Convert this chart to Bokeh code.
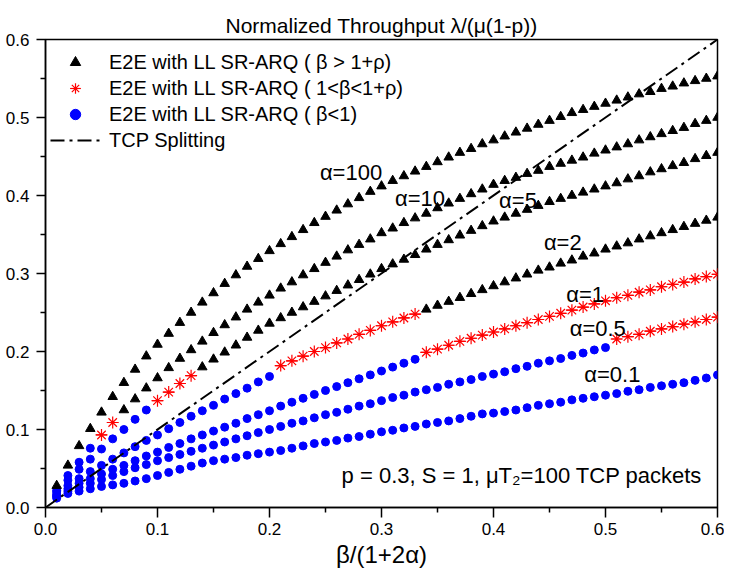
from bokeh.plotting import figure
from bokeh.models import (Range1d, FixedTicker, PrintfTickFormatter,
                          Legend, LegendItem)
from bokeh.embed import file_html
from bokeh.resources import INLINE
from bokeh.core.properties import value

# ---------------- data ----------------
x_vals = [0.01, 0.02, 0.03, 0.04, 0.05, 0.06, 0.07, 0.08, 0.09, 0.10,
          0.11, 0.12, 0.13, 0.14, 0.15, 0.16, 0.17, 0.18, 0.19, 0.20,
          0.21, 0.22, 0.23, 0.24, 0.25, 0.26, 0.27, 0.28, 0.29, 0.30,
          0.31, 0.32, 0.33, 0.34, 0.35, 0.36, 0.37, 0.38, 0.39, 0.40,
          0.41, 0.42, 0.43, 0.44, 0.45, 0.46, 0.47, 0.48, 0.49, 0.50,
          0.51, 0.52, 0.53, 0.54, 0.55, 0.56, 0.57, 0.58, 0.59, 0.60]

y_a100 = [0.028, 0.054, 0.079, 0.101, 0.122, 0.142, 0.160, 0.177, 0.194, 0.209,
          0.223, 0.237, 0.250, 0.263, 0.275, 0.287, 0.298, 0.309, 0.319, 0.329,
          0.338, 0.347, 0.356, 0.365, 0.373, 0.381, 0.389, 0.397, 0.405, 0.412,
          0.419, 0.425, 0.431, 0.437, 0.443, 0.449, 0.455, 0.460, 0.466, 0.471,
          0.476, 0.481, 0.486, 0.491, 0.496, 0.501, 0.506, 0.510, 0.514, 0.518,
          0.522, 0.526, 0.530, 0.533, 0.537, 0.540, 0.544, 0.547, 0.550, 0.553]

y_a10 = [0.022, 0.041, 0.058, 0.076, 0.093, 0.109, 0.125, 0.139, 0.153, 0.166,
         0.179, 0.191, 0.202, 0.213, 0.224, 0.234, 0.244, 0.254, 0.263, 0.272,
         0.281, 0.289, 0.298, 0.306, 0.314, 0.322, 0.330, 0.337, 0.344, 0.352,
         0.358, 0.365, 0.371, 0.377, 0.384, 0.390, 0.396, 0.402, 0.408, 0.414,
         0.419, 0.423, 0.428, 0.432, 0.437, 0.441, 0.445, 0.449, 0.454, 0.458,
         0.462, 0.466, 0.471, 0.475, 0.479, 0.483, 0.487, 0.492, 0.496, 0.500]

y_a5 = [0.020, 0.035, 0.049, 0.062, 0.075, 0.088, 0.100, 0.113, 0.125, 0.137,
        0.148, 0.159, 0.169, 0.180, 0.190, 0.199, 0.208, 0.218, 0.227, 0.236,
        0.243, 0.250, 0.257, 0.264, 0.271, 0.278, 0.285, 0.292, 0.299, 0.306,
        0.312, 0.318, 0.324, 0.331, 0.337, 0.343, 0.349, 0.355, 0.361, 0.367,
        0.372, 0.377, 0.382, 0.387, 0.392, 0.396, 0.400, 0.404, 0.408, 0.412,
        0.416, 0.421, 0.425, 0.430, 0.434, 0.438, 0.442, 0.447, 0.451, 0.455]

y_a2 = [0.017, 0.028, 0.037, 0.046, 0.054, 0.062, 0.070, 0.078, 0.086, 0.093,
        0.101, 0.109, 0.117, 0.124, 0.131, 0.139, 0.146, 0.153, 0.161, 0.168,
        0.182, 0.188, 0.194, 0.200, 0.205, 0.211, 0.216, 0.222, 0.227, 0.233,
        0.238, 0.243, 0.248, 0.254, 0.259, 0.264, 0.269, 0.274, 0.279, 0.284,
        0.289, 0.294, 0.299, 0.304, 0.308, 0.313, 0.317, 0.322, 0.326, 0.331,
        0.335, 0.339, 0.344, 0.348, 0.352, 0.356, 0.360, 0.364, 0.368, 0.372]

y_a1 = [0.015, 0.024, 0.031, 0.037, 0.043, 0.049, 0.054, 0.060, 0.066, 0.071,
        0.077, 0.082, 0.088, 0.093, 0.098, 0.103, 0.108, 0.114, 0.119, 0.124,
        0.130, 0.135, 0.140, 0.145, 0.150, 0.155, 0.160, 0.165, 0.170, 0.175,
        0.180, 0.185, 0.190, 0.199, 0.203, 0.208, 0.213, 0.217, 0.221, 0.225,
        0.229, 0.233, 0.237, 0.241, 0.245, 0.249, 0.253, 0.257, 0.261, 0.265,
        0.269, 0.272, 0.276, 0.279, 0.283, 0.286, 0.289, 0.293, 0.296, 0.299]

y_a05 = [0.014, 0.021, 0.026, 0.031, 0.036, 0.041, 0.046, 0.051, 0.055, 0.060,
         0.064, 0.068, 0.072, 0.076, 0.080, 0.084, 0.088, 0.092, 0.096, 0.100,
         0.104, 0.108, 0.111, 0.115, 0.119, 0.122, 0.126, 0.130, 0.133, 0.137,
         0.141, 0.144, 0.148, 0.151, 0.154, 0.158, 0.161, 0.164, 0.168, 0.171,
         0.174, 0.178, 0.181, 0.185, 0.188, 0.191, 0.195, 0.198, 0.202, 0.205,
         0.216, 0.219, 0.222, 0.226, 0.229, 0.232, 0.235, 0.238, 0.241, 0.244]

y_a01 = [0.012, 0.018, 0.021, 0.024, 0.027, 0.029, 0.031, 0.034, 0.037, 0.041,
         0.045, 0.049, 0.053, 0.057, 0.060, 0.062, 0.064, 0.067, 0.069, 0.071,
         0.073, 0.076, 0.079, 0.082, 0.084, 0.086, 0.089, 0.091, 0.094, 0.097,
         0.099, 0.102, 0.104, 0.107, 0.109, 0.111, 0.114, 0.117, 0.120, 0.121,
         0.123, 0.125, 0.128, 0.131, 0.133, 0.135, 0.138, 0.140, 0.142, 0.144,
         0.146, 0.149, 0.151, 0.154, 0.156, 0.158, 0.160, 0.163, 0.166, 0.170]

# number of leading points drawn as "beta<1" (circles) and then "1<beta<1+rho" (stars)
n_circle = [0, 4, 9, 20, 33, 50, 60]
n_star = [0, 2, 4, 13, 27, 10, 0]

alpha_labels = ["α=100", "α=10", "α=5", "α=2", "α=1", "α=0.5", "α=0.1"]

tcp_x = [0.0, 0.6]
tcp_y = [0.0, 0.6]

major_ticks = [0.0, 0.1, 0.2, 0.3, 0.4, 0.5, 0.6]
minor_ticks = [0.05, 0.15, 0.25, 0.35, 0.45, 0.55]

legend_labels = ["E2E with LL SR-ARQ ( β > 1+ρ)",
                 "E2E with LL SR-ARQ ( 1<β<1+ρ)",
                 "E2E with LL SR-ARQ ( β<1)",
                 "TCP Splitting"]
note_text = "p = 0.3, S = 1, μT₂=100 TCP packets"

# ---------------- split the points by regime ----------------
curves = [y_a100, y_a10, y_a5, y_a2, y_a1, y_a05, y_a01]
tri_x, tri_y, star_x, star_y, circ_x, circ_y = [], [], [], [], [], []
for ys, nc, ns in zip(curves, n_circle, n_star):
    for i, (xv, yv) in enumerate(zip(x_vals, ys)):
        if i < nc:
            circ_x.append(xv); circ_y.append(yv)
        elif i < nc + ns:
            star_x.append(xv); star_y.append(yv)
        else:
            tri_x.append(xv); tri_y.append(yv)

FONT = "Liberation Sans"

p = figure(width=724, height=572, output_backend="svg", toolbar_location=None,
           x_range=Range1d(0, 0.6), y_range=Range1d(0, 0.6),
           min_border_left=45, min_border_right=7, min_border_top=39,
           min_border_bottom=65,
           title="Normalized Throughput λ/(μ(1-p))")
p.background_fill_color = "white"
p.border_fill_color = "white"
p.outline_line_color = "black"
p.outline_line_width = 1.5
p.xgrid.visible = False
p.ygrid.visible = False

p.title.align = "center"
p.title.text_font = FONT
p.title.text_font_size = "21px"
p.title.text_font_style = "normal"
p.title.text_color = "black"
p.title.standoff = 6

for ax in (p.xaxis[0], p.yaxis[0]):
    ax.ticker = FixedTicker(ticks=major_ticks, minor_ticks=minor_ticks)
    ax.formatter = PrintfTickFormatter(format="%.1f")
    ax.axis_line_width = 1.5
    ax.axis_line_color = "black"
    ax.major_tick_line_width = 1.5
    ax.minor_tick_line_width = 1.5
    ax.major_tick_line_color = "black"
    ax.minor_tick_line_color = "black"
    ax.major_tick_in = 0
    ax.minor_tick_in = 0
    ax.minor_tick_out = 5
    ax.major_label_text_font = FONT
    ax.major_label_text_font_size = "17px"
    ax.major_label_text_color = "black"

p.xaxis.major_tick_out = 10
p.xaxis.major_label_standoff = 5
p.yaxis.major_tick_out = 9
p.yaxis.major_label_standoff = 7

p.xaxis.axis_label = "β/(1+2α)"
p.xaxis.axis_label_text_font = FONT
p.xaxis.axis_label_text_font_size = "24px"
p.xaxis.axis_label_text_font_style = "normal"
p.xaxis.axis_label_text_color = "black"
p.xaxis.axis_label_standoff = 3

# ---------------- glyphs ----------------
r_circ = p.scatter(circ_x, circ_y, marker="circle", size=8,
                   fill_color="#0000FF", line_color="#0000FF", line_width=1)
r_star1 = p.scatter(star_x, star_y, marker="asterisk", size=12,
                    line_color="#FF0000", line_width=1.2)
r_star2 = p.scatter(star_x, star_y, marker="dash", size=11,
                    line_color="#FF0000", line_width=1.2)
r_tri = p.scatter(tri_x, tri_y, marker="triangle", size=9.5,
                  fill_color="black", line_color="black", line_width=1)
r_tcp = p.line(tcp_x, tcp_y, line_color="black", line_width=2,
               line_dash="14 5 3 5")

p.text(x=[0.245, 0.312, 0.405, 0.445, 0.465, 0.468, 0.481],
       y=[0.429, 0.396, 0.393, 0.340, 0.2735, 0.229, 0.171],
       text=alpha_labels, text_font=value(FONT), text_font_size="22px",
       text_baseline="middle", text_align="left", text_color="black")

p.text(x=[0.5863], y=[0.041], text=[note_text], text_font=value(FONT),
       text_font_size="22px", text_baseline="middle", text_align="right",
       text_color="black")

legend = Legend(items=[
    LegendItem(label=legend_labels[0], renderers=[r_tri]),
    LegendItem(label=legend_labels[1], renderers=[r_star1, r_star2]),
    LegendItem(label=legend_labels[2], renderers=[r_circ]),
    LegendItem(label=legend_labels[3], renderers=[r_tcp]),
], location=(5, 354))
legend.border_line_color = None
legend.background_fill_alpha = 0
legend.label_text_font = FONT
legend.label_text_font_size = "20px"
legend.label_text_color = "black"
legend.glyph_width = 50
legend.glyph_height = 26
legend.label_height = 26
legend.label_standoff = 9
legend.padding = 5
legend.margin = 0
legend.spacing = 0
p.add_layout(legend)

open("out.html", "w").write(file_html(p, INLINE))
